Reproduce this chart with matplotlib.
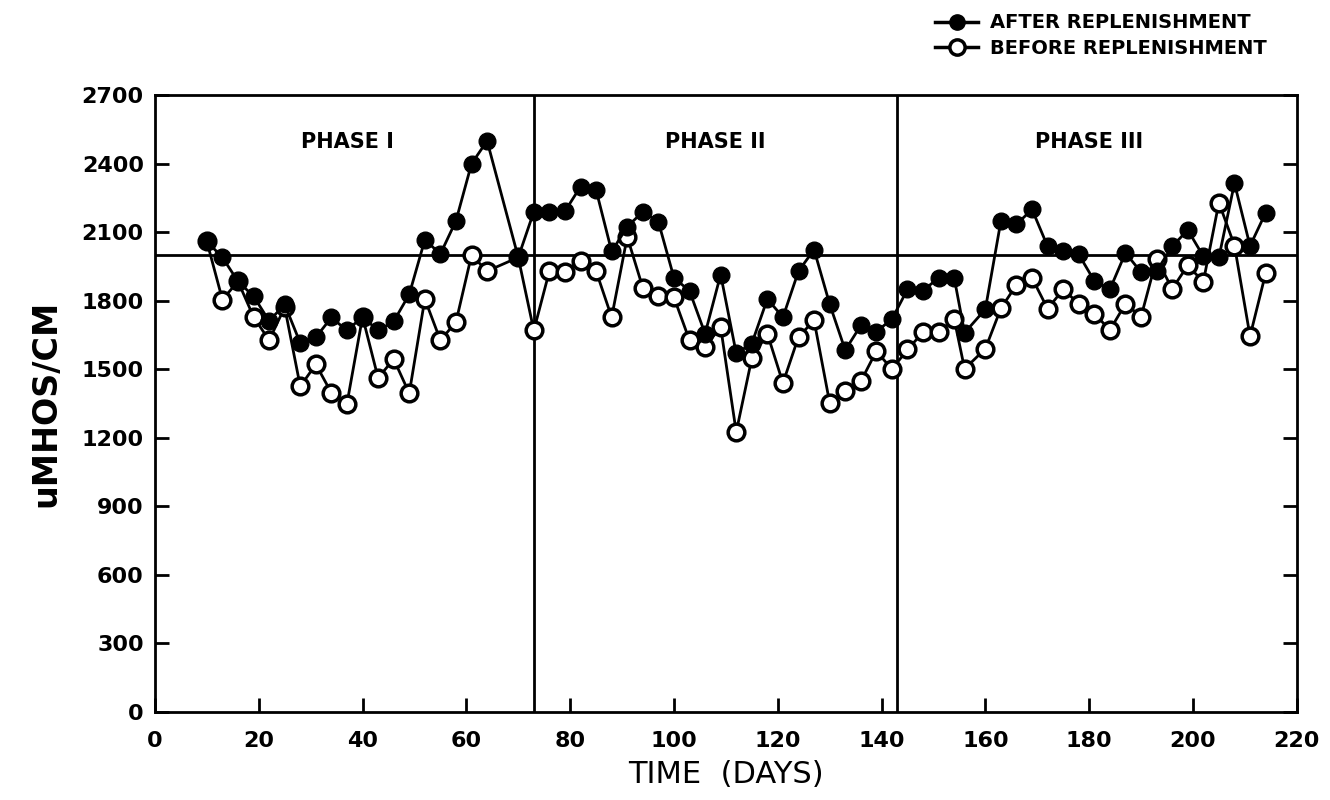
import matplotlib
matplotlib.use("Agg")
import matplotlib.pyplot as plt
from matplotlib.lines import Line2D

# sampling days (same for both series)
days = [10, 13, 16, 19, 22, 25, 28, 31, 34, 37, 40, 43, 46, 49, 52, 55, 58, 61, 64,
        70, 73, 76, 79, 82, 85, 88, 91, 94, 97, 100, 103, 106, 109, 112, 115, 118,
        121, 124, 127, 130, 133, 136, 139, 142, 145, 148, 151, 154, 156, 160, 163,
        166, 169, 172, 175, 178, 181, 184, 187, 190, 193, 196, 199, 202, 205, 208,
        211, 214]

after = [2060, 1990, 1885, 1820, 1712, 1784, 1615, 1640, 1727, 1670, 1730, 1670,
         1710, 1828, 2067, 2005, 2150, 2400, 2500,
         1990, 2190, 2190, 2192, 2300, 2285, 2016, 2124, 2190, 2146, 1901, 1843,
         1656, 1915, 1570, 1613, 1808, 1728, 1930, 2024, 1786, 1584, 1692, 1665,
         1720, 1850, 1845, 1900, 1900, 1660, 1763, 2150, 2135, 2200, 2038, 2017,
         2003, 1887, 1850, 2010, 1925, 1930, 2038, 2110, 1995, 1990, 2315, 2040,
         2185]

before = [2060, 1805, 1885, 1730, 1627, 1772, 1425, 1522, 1397, 1350, 1730, 1462,
          1545, 1395, 1808, 1627, 1707, 2000, 1930,
          1990, 1670, 1930, 1928, 1975, 1930, 1728, 2080, 1857, 1822, 1815, 1627,
          1599, 1685, 1225, 1548, 1656, 1440, 1642, 1714, 1354, 1404, 1447, 1580,
          1500, 1587, 1662, 1662, 1720, 1502, 1590, 1767, 1870, 1900, 1765, 1850,
          1787, 1744, 1672, 1787, 1730, 1985, 1852, 1955, 1883, 2230, 2042, 1645,
          1920]

phase_bounds = [73, 143]
phase_names = ["PHASE I", "PHASE II", "PHASE III"]
phase_label_x = [37, 108, 180]
reference_level = 2000

fig = plt.figure(figsize=(13.3, 8), dpi=100, facecolor="white")
ax = fig.add_axes([0.1165, 0.11, 0.8585, 0.771])

ax.plot(days, before, color="black", lw=2, marker="o", markersize=12,
        markerfacecolor="white", markeredgecolor="black", markeredgewidth=2.5,
        zorder=3)
ax.plot(days, after, color="black", lw=2, marker="o", markersize=12,
        markerfacecolor="black", markeredgecolor="black", zorder=4)

for xb in phase_bounds:
    ax.axvline(xb, color="black", lw=2, zorder=2)
ax.axhline(reference_level, color="black", lw=2, zorder=2)

for name, xp in zip(phase_names, phase_label_x):
    ax.text(xp, 2495, name, ha="center", va="center", fontsize=15,
            fontweight="bold", family="DejaVu Sans")

ax.set_xlim(0, 220)
ax.set_ylim(0, 2700)
ax.set_xticks(range(0, 221, 20))
ax.set_yticks(range(0, 2701, 300))
ax.tick_params(direction="in", length=10, width=2, labelsize=16, right=True)
ax.tick_params(axis="x", pad=14)
ax.tick_params(axis="y", pad=8)
for lbl in ax.get_xticklabels() + ax.get_yticklabels():
    lbl.set_fontweight("bold")
for sp in ax.spines.values():
    sp.set_linewidth(2)

ax.set_xlabel("TIME  (DAYS)", fontsize=22, labelpad=6)
ax.set_ylabel("uMHOS/CM", fontsize=24, fontweight="bold", labelpad=14)

handles = [
    Line2D([0], [0], color="black", lw=2.5, marker="o", markersize=11,
           markerfacecolor="black", label="AFTER REPLENISHMENT"),
    Line2D([0], [0], color="black", lw=2.5, marker="o", markersize=11,
           markerfacecolor="white", markeredgewidth=2.5,
           label="BEFORE REPLENISHMENT"),
]
fig.legend(handles=handles, loc="upper left", bbox_to_anchor=(0.69, 1.005),
           frameon=False, handlelength=2.2, handletextpad=0.6,
           labelspacing=0.35, prop={"size": 14, "weight": "bold"})

fig.savefig("out.png", dpi=100, facecolor="white")
